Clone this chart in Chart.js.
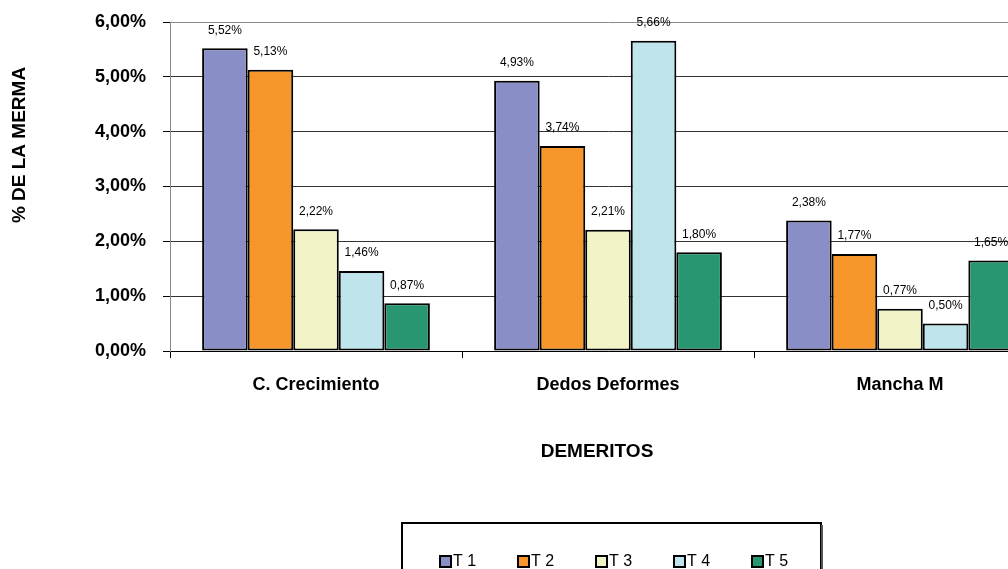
<!DOCTYPE html>
<html>
<head>
<meta charset="utf-8">
<script src="https://cdn.jsdelivr.net/npm/chart.js@4"></script>
<style>
html,body{margin:0;padding:0;background:#fff;overflow:hidden;width:1008px;height:569px;}
#wrap{position:absolute;left:0;top:0;width:1050px;height:569px;}
</style>
</head>
<body>
<div id="wrap"><canvas id="c" width="1050" height="569"></canvas></div>
<script>
const categories = ["C. Crecimiento", "Dedos Deformes", "Mancha M"];
const seriesNames = ["T 1", "T 2", "T 3", "T 4", "T 5"];
const t1 = [5.52, 4.93, 2.38];
const t2 = [5.13, 3.74, 1.77];
const t3 = [2.22, 2.21, 0.77];
const t4 = [1.46, 5.66, 0.50];
const t5 = [0.87, 1.80, 1.65];
const yTicks = [0, 1, 2, 3, 4, 5, 6];
const yTitle = "% DE LA MERMA";
const xTitle = "DEMERITOS";
const colors = ["#8A8EC6", "#F7962B", "#F3F3C8", "#C0E4EB", "#279671"];

const fmt = v => v.toFixed(2).replace('.', ',') + '%';
const FONT = '"Liberation Sans", Arial, sans-serif';

const seriesValues = [t1, t2, t3, t4, t5];
const datasets = seriesValues.map((vals, i) => ({
  label: seriesNames[i],
  data: vals,
  backgroundColor: colors[i],
  borderColor: '#000',
  borderWidth: 2,
  borderSkipped: false,
  barPercentage: 1,
  categoryPercentage: 0.78
}));

const extras = {
  id: 'extras',
  afterDatasetsDraw(chart) {
    const ctx = chart.ctx;
    ctx.save();
    ctx.font = '12px ' + FONT;
    ctx.fillStyle = '#000';
    ctx.textAlign = 'center';
    ctx.textBaseline = 'middle';
    chart.data.datasets.forEach((ds, di) => {
      const meta = chart.getDatasetMeta(di);
      meta.data.forEach((bar, j) => {
        ctx.fillText(fmt(ds.data[j]), bar.x, bar.y - 18);
      });
    });
    ctx.restore();
  },
  afterDraw(chart) {
    const ctx = chart.ctx;
    ctx.save();
    ctx.fillStyle = '#000';
    ctx.font = 'bold 19px ' + FONT;
    ctx.translate(20, 145);
    ctx.rotate(-Math.PI / 2);
    ctx.textAlign = 'center';
    ctx.textBaseline = 'middle';
    ctx.fillText(yTitle, 0, 0);
    ctx.restore();
    ctx.save();
    ctx.fillStyle = '#000';
    ctx.font = 'bold 19px ' + FONT;
    ctx.textAlign = 'center';
    ctx.textBaseline = 'alphabetic';
    ctx.fillText(xTitle, 597, 457);
    // legend
    ctx.lineWidth = 2;
    ctx.strokeStyle = '#000';
    ctx.strokeRect(402, 523, 419, 60);
    ctx.fillStyle = '#555';
    ctx.fillRect(821, 525, 2, 60);
    ctx.font = '16px ' + FONT;
    ctx.textAlign = 'left';
    chart.data.datasets.forEach((ds, i) => {
      const x = 440 + i * 78;
      ctx.fillStyle = ds.backgroundColor;
      ctx.fillRect(x, 556, 11, 11);
      ctx.strokeStyle = '#000';
      ctx.lineWidth = 2;
      ctx.strokeRect(x, 556, 11, 11);
      ctx.fillStyle = '#000';
      ctx.fillText(ds.label, x + 13, 566);
    });
    ctx.restore();
  }
};

new Chart(document.getElementById('c'), {
  type: 'bar',
  data: { labels: categories, datasets },
  options: {
    responsive: false,
    animation: false,
    devicePixelRatio: 1,
    layout: { padding: { top: 22, right: 4, left: 0, bottom: 0 } },
    plugins: { legend: { display: false }, tooltip: { enabled: false } },
    scales: {
      x: {
        afterFit(s) { s.height = 218; s.paddingLeft = 0; s.paddingRight = 0; },
        grid: { display: true, drawOnChartArea: false, drawTicks: true, tickLength: 7, offset: true, color: '#000', tickColor: '#000' },
        border: { display: true, color: '#000', width: 1 },
        ticks: { color: '#000', font: { family: FONT, size: 18, weight: 'bold' }, padding: 16, maxRotation: 0 }
      },
      y: {
        min: 0, max: 6,
        afterFit(s) { s.width = 170; s.paddingTop = 0; s.paddingBottom = 0; },
        afterBuildTicks(s) { s.ticks = yTicks.map(v => ({ value: v })); },
        grid: {
          color: c => (c.tick && c.tick.value === 6) ? '#8a8a8a' : '#333',
          tickColor: '#000',
          tickLength: 7,
          lineWidth: 1
        },
        border: { display: true, color: '#8a8a8a', width: 1 },
        ticks: {
          color: '#000',
          font: { family: FONT, size: 18, weight: 'bold' },
          padding: 17,
          callback: v => fmt(v)
        }
      }
    }
  },
  plugins: [extras]
});
</script>
</body>
</html>
